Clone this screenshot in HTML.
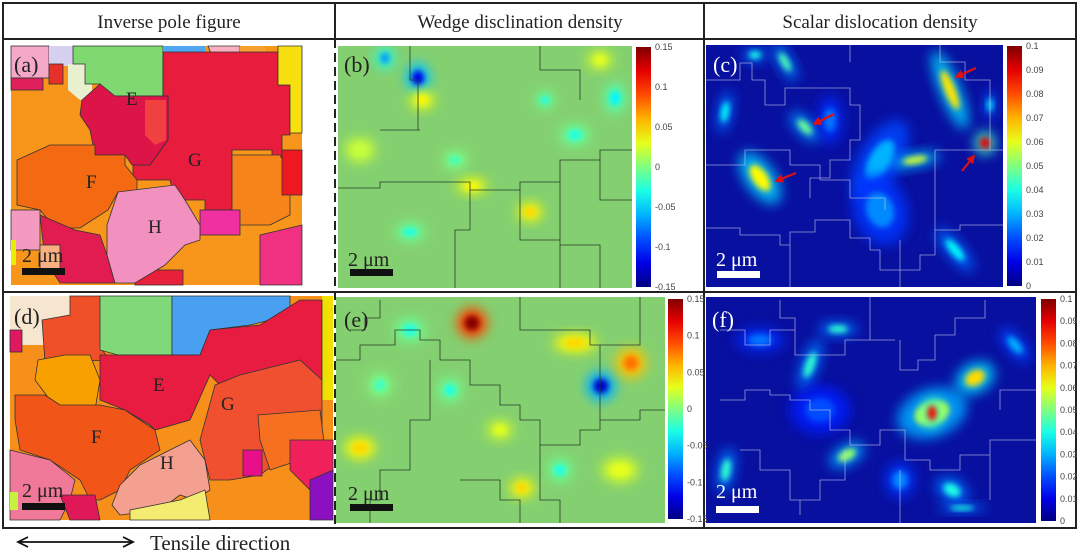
<!DOCTYPE html>
<html><head><meta charset="utf-8"><style>
html,body{margin:0;padding:0;background:#fff;}
svg{display:block;font-family:"Liberation Serif",serif;}
.tk{font-family:"Liberation Sans",sans-serif;font-size:9px;fill:#444;}
</style></head><body>
<svg id="fig" width="1080" height="553" viewBox="0 0 1080 553" xmlns="http://www.w3.org/2000/svg">
<defs>
<filter id="blur6" x="-50%" y="-50%" width="200%" height="200%"><feGaussianBlur stdDeviation="6"/></filter>
<filter id="blur3" x="-50%" y="-50%" width="200%" height="200%"><feGaussianBlur stdDeviation="3"/></filter>
<clipPath id="cb"><rect x="338" y="46" width="294" height="242"/></clipPath>
<clipPath id="cc"><rect x="706" y="45" width="297" height="242"/></clipPath>
<clipPath id="ce"><rect x="336" y="297" width="329" height="226"/></clipPath>
<clipPath id="cf"><rect x="706" y="297" width="330" height="226"/></clipPath>
<marker id="ah" viewBox="0 0 10 10" refX="8" refY="5" markerWidth="4" markerHeight="4" orient="auto"><path d="M0,0 L10,5 L0,10 z" fill="#e01010"/></marker>
</defs>

<rect x="3" y="3" width="1073" height="525" fill="none" stroke="#222" stroke-width="2"/>
<line x1="3" y1="39" x2="1076" y2="39" stroke="#222" stroke-width="2"/>
<line x1="3" y1="292" x2="1076" y2="292" stroke="#222" stroke-width="2"/>
<line x1="335" y1="3" x2="335" y2="39" stroke="#222" stroke-width="2"/>
<line x1="335" y1="39" x2="335" y2="528" stroke="#222" stroke-width="2" stroke-dasharray="9,5"/>
<line x1="704" y1="3" x2="704" y2="528" stroke="#222" stroke-width="2"/>

<text x="169" y="28" font-size="19" text-anchor="middle" fill="#222">Inverse pole figure</text>
<text x="520" y="28" font-size="19" text-anchor="middle" fill="#222">Wedge disclination density</text>
<text x="880" y="28" font-size="19" text-anchor="middle" fill="#222">Scalar dislocation density</text>

<g stroke="#333" stroke-width="0.8">
<rect x="11" y="46" width="291" height="239" fill="#f7961a" stroke="none"/>
<rect x="11" y="46" width="38" height="32" fill="#f6a8c8"/>
<rect x="11" y="78" width="32" height="12" fill="#e0205a"/>
<rect x="49" y="46" width="24" height="20" fill="#d8d0f0" stroke="none"/>
<rect x="49" y="64" width="14" height="20" fill="#e8302a"/>
<polygon points="68,64 85,64 85,84 92,84 92,100 80,100 68,90" fill="#e8f0d0" stroke="none"/>
<polygon points="73,46 163,46 163,96 110,96 100,84 85,84 85,64 73,64" fill="#80d870"/>
<rect x="163" y="46" width="42" height="6" fill="#50a8f0" stroke="none"/>
<polygon points="208,46 240,46 240,60 228,60 228,64 215,64" fill="#f8b0c0"/>
<rect x="240" y="46" width="25" height="10" fill="#f7a030" stroke="none"/>
<polygon points="163,52 278,52 278,85 290,85 290,135 282,135 282,165 272,165 272,150 232,150 232,210 205,210 205,200 175,200 170,180 133,180 133,165 150,165 168,140 168,96 163,96" fill="#e81c3c"/>
<polygon points="278,46 302,46 302,133 290,133 290,85 278,85" fill="#f8e010"/>
<polygon points="82,100 100,84 115,96 168,96 168,140 150,165 132,165 125,155 95,155 90,130 80,115" fill="#dc1448"/>
<polygon points="145,100 166,100 166,140 155,145 145,135" fill="#f04040" stroke="none"/>
<polygon points="17,160 50,145 95,145 95,155 125,155 125,165 137,180 137,192 118,192 108,210 80,228 55,228 40,210 17,205" fill="#f46a12"/>
<polygon points="232,155 280,155 290,175 290,215 270,225 232,225" fill="#f7841a"/>
<rect x="282" y="150" width="20" height="45" fill="#f01820"/>
<rect x="200" y="210" width="40" height="25" fill="#f030a0"/>
<polygon points="260,235 302,225 302,285 260,285" fill="#f03080"/>
<polygon points="40,215 75,230 100,235 107,255 115,283 60,283 45,260" fill="#e01c50"/>
<rect x="11" y="210" width="29" height="40" fill="#f49ac0"/>
<rect x="11" y="240" width="5" height="25" fill="#e8f000" stroke="none"/>
<rect x="40" y="245" width="20" height="25" fill="#f8b080"/>
<rect x="135" y="270" width="48" height="15" fill="#e8203a"/>
<polygon points="118,192 175,185 185,200 200,225 200,240 185,245 165,265 135,283 115,283 107,255 107,225" fill="#f290c0"/>
</g>
<text x="14" y="72" font-size="22" fill="#222">(a)</text>
<text x="126" y="105" font-size="19" fill="#222">E</text>
<text x="188" y="166" font-size="19" fill="#222">G</text>
<text x="86" y="188" font-size="19" fill="#222">F</text>
<text x="148" y="233" font-size="19" fill="#222">H</text>
<text x="22" y="262" font-size="20" fill="#222">2 μm</text>
<rect x="22" y="268" width="43" height="7" fill="#111"/>

<g stroke="#333" stroke-width="0.8">
<rect x="10" y="296" width="323" height="224" fill="#f7901a" stroke="none"/>
<rect x="10" y="296" width="60" height="49" fill="#f6e6d0" stroke="none"/>
<rect x="10" y="330" width="12" height="22" fill="#e01860"/>
<polygon points="42,320 70,315 70,296 100,296 102,350 110,360 45,362" fill="#f05028"/>
<polygon points="100,296 172,296 172,355 118,355 100,350" fill="#80d878"/>
<polygon points="172,296 290,296 290,310 270,320 250,325 210,330 200,355 172,355" fill="#4aa0f0"/>
<rect x="322" y="296" width="11" height="104" fill="#f0e000" stroke="none"/>
<polygon points="38,360 65,355 90,355 100,380 95,410 70,415 50,400 35,380" fill="#f8a000"/>
<polygon points="100,355 200,355 210,330 260,325 300,300 322,300 322,380 300,380 260,380 230,395 210,375 190,420 155,430 150,425 125,410 100,400 100,385" fill="#e81c40"/>
<polygon points="215,385 240,375 300,360 322,380 322,430 300,430 280,460 260,475 230,480 210,480 200,440" fill="#f05030"/>
<polygon points="258,415 320,410 325,450 300,460 270,470 260,440" fill="#f77020"/>
<polygon points="15,395 45,395 60,405 100,405 125,410 155,430 160,450 130,470 120,490 110,495 100,500 90,500 80,480 50,460 20,450 15,420" fill="#f25518"/>
<rect x="243" y="450" width="19" height="26" fill="#e8108a"/>
<polygon points="290,440 333,440 333,480 310,490 290,470" fill="#f0205a"/>
<polygon points="310,480 333,470 333,520 310,520" fill="#8a10c0"/>
<polygon points="10,450 50,460 75,480 70,500 60,520 10,520" fill="#f07898"/>
<polygon points="60,495 95,495 100,520 70,520" fill="#e01858"/>
<rect x="10" y="492" width="8" height="18" fill="#c8f040" stroke="none"/>
<polygon points="120,485 140,465 190,440 205,460 210,490 195,500 180,495 160,510 120,515 112,505" fill="#f4a090"/>
<polygon points="130,520 130,510 180,500 205,490 210,520" fill="#f4ec70"/>
</g>
<text x="14" y="324" font-size="22" fill="#222">(d)</text>
<text x="153" y="391" font-size="19" fill="#222">E</text>
<text x="221" y="410" font-size="19" fill="#222">G</text>
<text x="91" y="443" font-size="19" fill="#222">F</text>
<text x="160" y="469" font-size="19" fill="#222">H</text>
<text x="22" y="497" font-size="20" fill="#222">2 μm</text>
<rect x="22" y="503" width="43" height="7" fill="#111"/>

<g clip-path="url(#cb)"><rect x="338" y="46" width="294" height="242" fill="#84d070"/><g id="blobs-b"></g>
<path d="M410,46 V80 H418 V130 M338,188 H380 V182 H470 V190 H520 V182 H560 V160 H600 V150 H632 M470,190 V230 H455 V288 M520,190 V240 H560 V288 M560,182 V245 H600 V288 M380,130 H420 M540,46 V70 H580 V100 M600,150 V200 H632" fill="none" stroke="#2a3a2a" stroke-width="0.8"/></g>
<g clip-path="url(#cc)"><rect x="706" y="45" width="297" height="242" fill="#0810a0"/><g id="blobs-c"></g>
<path d="M706,80 H740 V63 H752 V80 H765 V105 H785 V88 H850 V105 H860 V140 H850 V160 H830 V178 H810 V198 M706,165 H745 V150 H790 V165 H820 V180 M706,228 H740 V235 H780 V245 H790 V232 H815 V220 H850 V238 H870 V250 H880 V270 H920 V255 H935 V230 H960 V225 H1003 M790,245 V287 M850,62 V45 M940,45 V62 H965 V80 H990 V150 H1003 M935,150 H990 M935,150 V230 M820,180 H850 V198 H885 V210 M900,240 V287" fill="none" stroke="#c8c8e8" stroke-width="0.8" opacity="0.75"/></g>
<g clip-path="url(#ce)"><rect x="336" y="297" width="329" height="226" fill="#84d070"/><g id="blobs-e"></g>
<path d="M350,330 H365 V318 H380 V300 M336,360 H360 V345 H395 V330 H420 V340 H440 V360 H470 V385 H500 V405 H520 V420 H540 V445 H580 V430 H600 V420 H640 V410 H665 M520,297 V330 H590 V345 H640 V297 M600,345 V420 M430,360 V420 H410 V470 H380 V500 H370 V523 M540,445 V500 H560 V523 M460,480 H500 V500 H520 V523" fill="none" stroke="#2a3a2a" stroke-width="0.8"/></g>
<g clip-path="url(#cf)"><rect x="706" y="297" width="330" height="226" fill="#0810a0"/><g id="blobs-f"></g>
<path d="M720,330 H745 V345 H770 V330 H795 V355 H845 V340 H895 M780,300 V318 H795 V330 M870,297 V340 M900,340 V370 H918 V360 H935 V335 H955 V318 H985 V300 M720,400 H745 V390 H770 V395 H790 V400 H810 V410 H830 V430 H850 V445 H880 V430 H905 V460 H930 V470 H960 V455 H990 V440 H1036 M740,450 H760 V470 H790 V500 H800 V515 M845,450 V480 H820 V500 H800 M900,470 V523 M990,455 V500 M1000,410 V390 H1036" fill="none" stroke="#c8c8e8" stroke-width="0.8" opacity="0.75"/></g>

<g id="colorbars"></g>

<text x="344" y="72" font-size="22" fill="#222">(b)</text>
<text x="348" y="266" font-size="20" fill="#222">2 μm</text>
<rect x="350" y="269" width="43" height="7" fill="#111"/>
<text x="713" y="72" font-size="22" fill="#fff">(c)</text>
<text x="716" y="266" font-size="20" fill="#fff">2 μm</text>
<rect x="717" y="271" width="43" height="7" fill="#fff"/>
<text x="344" y="327" font-size="22" fill="#222">(e)</text>
<text x="348" y="500" font-size="20" fill="#222">2 μm</text>
<rect x="350" y="504" width="43" height="7" fill="#111"/>
<text x="712" y="327" font-size="22" fill="#fff">(f)</text>
<text x="716" y="498" font-size="20" fill="#fff">2 μm</text>
<rect x="716" y="506" width="43" height="7" fill="#fff"/>

<g stroke="#e01010" stroke-width="2.2" marker-end="url(#ah)">
<line x1="834" y1="114" x2="814" y2="124"/>
<line x1="796" y1="173" x2="776" y2="181"/>
<line x1="976" y1="68" x2="956" y2="77"/>
<line x1="962" y1="171" x2="974" y2="156"/>
</g>

<g stroke="#111" stroke-width="1.8" fill="none">
<line x1="19" y1="542" x2="132" y2="542"/>
<polyline points="28,537 18,542 28,547"/><polyline points="123,537 133,542 123,547"/>
</g>
<text x="150" y="550" font-size="21" fill="#222">Tensile direction</text>
</svg>

<script>
const wedgeTicks = ["0.15","0.1","0.05","0","-0.05","-0.1","-0.15"];
const dislocTicks = ["0.1","0.09","0.08","0.07","0.06","0.05","0.04","0.03","0.02","0.01","0"];
// blob data: [x, y, rx, ry, rotation, value]
const blobsB = [[418,78,8,10,0,-0.12],[385,58,6,7,0,-0.07],[422,100,8,6,0,0.04],[575,135,10,7,0,-0.03],[615,98,7,10,0,-0.04],[410,232,10,6,0,-0.03],[530,212,8,6,0,0.05],[472,186,10,5,0,0.04],[600,60,8,6,0,0.03],[455,160,8,6,0,-0.02],[360,150,10,8,0,0.02],[545,100,6,6,0,-0.03]];
const blobsE = [[472,323,10,10,0,0.15],[601,386,10,10,0,-0.13],[631,363,10,10,0,0.08],[575,343,14,6,0,0.05],[360,448,10,7,0,0.05],[522,488,8,6,0,0.05],[410,330,10,8,0,-0.03],[450,390,8,8,0,-0.03],[560,470,8,8,0,-0.03],[620,470,12,8,0,0.03],[380,385,8,8,0,-0.02],[500,430,8,6,0,0.03]];
const blobsC = [[880,160,30,14,-60,0.3],[950,90,28,7,68,0.65],[985,143,7,8,0,0.9],[760,178,20,10,55,0.63],[805,127,13,6,45,0.48],[915,160,17,5,-10,0.58],[785,62,14,5,60,0.45],[755,55,8,5,0,0.4],[725,112,5,14,10,0.38],[955,250,18,6,50,0.38],[990,105,4,9,0,0.35],[880,210,18,24,-20,0.26],[830,120,8,16,0,0.24]];
const blobsF = [[932,413,24,16,-20,0.55],[932,413,6,10,0,0.88],[975,378,14,10,-30,0.66],[847,455,13,7,-30,0.52],[838,329,13,5,0,0.42],[810,365,6,18,20,0.42],[726,470,6,15,10,0.42],[952,490,12,8,30,0.4],[962,508,16,3,0,0.4],[1015,345,6,14,-40,0.3],[760,340,16,8,0,0.24],[900,480,10,12,0,0.26],[820,410,20,16,0,0.2]];

function jet(t){
  t=Math.max(0,Math.min(1,t));
  const c=v=>Math.round(255*Math.max(0,Math.min(1,v)));
  return `rgb(${c(1.5-Math.abs(4*t-3))},${c(1.5-Math.abs(4*t-2))},${c(1.5-Math.abs(4*t-1))})`;
}
const NS="http://www.w3.org/2000/svg";
function mk(tag,attrs,parent){const e=document.createElementNS(NS,tag);for(const k in attrs)e.setAttribute(k,attrs[k]);parent.appendChild(e);return e;}

function drawBlobs(id,data,scale,baseT,frac,op){
  const g=document.getElementById(id);
  data.forEach(d=>{
    const t=scale(d[5]);
    const mid=baseT+(t-baseT)*frac;
    const o=mk('ellipse',{cx:d[0],cy:d[1],rx:d[2]*1.5,ry:d[3]*1.5,fill:jet(mid),opacity:op,filter:'url(#blur6)',transform:`rotate(${d[4]} ${d[0]} ${d[1]})`},g);
    
    
    const e=mk('ellipse',{cx:d[0],cy:d[1],rx:d[2]*0.75,ry:d[3]*0.75,fill:jet(t),filter:'url(#blur3)',transform:`rotate(${d[4]} ${d[0]} ${d[1]})`},g);
    
    
  });
}
const wedgeScale=v=>(v+0.15)/0.3;
const dislocScale=v=>v;
drawBlobs('blobs-b',blobsB,wedgeScale,0.58,0.55,1);
drawBlobs('blobs-e',blobsE,wedgeScale,0.58,0.55,1);
drawBlobs('blobs-c',blobsC,dislocScale,0.12,0.4,0.85);
drawBlobs('blobs-f',blobsF,dislocScale,0.12,0.4,0.85);

let gid=0;
function colorbar(x,y,w,h,ticks,name){
  const g=document.getElementById('colorbars');
  const id='jetg'+(gid++);
  const defs=document.querySelector('defs');
  const lg=mk('linearGradient',{id:id,x1:0,y1:1,x2:0,y2:0},defs);
  for(let i=0;i<=10;i++) mk('stop',{offset:i/10,'stop-color':jet(i/10)},lg);
  const r=mk('rect',{x:x,y:y,width:w,height:h,fill:`url(#${id})`},g);
  
  
  ticks.forEach((t,i)=>{
    const ty=y+h*i/(ticks.length-1);
    const tx=mk('text',{x:x+w+4,y:ty+3,class:'tk'},g);
    tx.textContent=t;
    
    
  });
}
colorbar(636,47,15,240,wedgeTicks,'colorbar-b');
colorbar(1007,46,15,240,dislocTicks,'colorbar-c');
colorbar(668,299,15,220,wedgeTicks,'colorbar-e');
colorbar(1041,299,15,222,dislocTicks,'colorbar-f');
</script>
</body></html>
